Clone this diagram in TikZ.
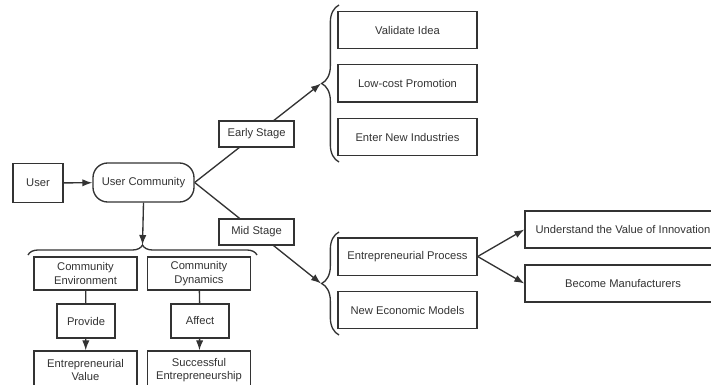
\documentclass[tikz,border=0pt]{standalone}
\usepackage{fontspec}
\setmainfont{Liberation Sans}
\usetikzlibrary{arrows.meta,decorations.pathreplacing}
\definecolor{ink}{HTML}{333333}

\begin{document}
\begin{tikzpicture}[x=0.75pt,y=-0.75pt,
    font=\fontsize{8.4}{10}\selectfont,
    line width=1pt, draw=ink, text=ink,
    >={Latex[length=7.5pt,width=5.5pt]},
    box/.style={draw, fill=white, inner sep=2pt, align=center},
    stagebox/.style={box, minimum width=56.25pt, minimum height=19.5pt},
    itembox/.style={box, minimum width=104.25pt, minimum height=28pt},
    resultbox/.style={box, minimum width=147pt, minimum height=27.75pt},
    facetbox/.style={box, minimum width=77.25pt, minimum height=24.75pt},
    verbbox/.style={box, minimum width=43.5pt, minimum height=25.5pt},
    valuebox/.style={box, minimum width=77.25pt, minimum height=28.5pt}]
    \useasboundingbox (0,0) rectangle (711,385);
    % user and community
    \node[box, minimum width=37.5pt, minimum height=29.25pt] (user) at (38,183) {User};
    \node[box, rounded corners=11pt, minimum width=75.75pt, minimum height=29.25pt] (uc) at (143.5,182.5) {User Community};
    \draw[->] (user) -- (uc);
    % brace tips
    \coordinate (tipA) at (321,83.5);
    \coordinate (tipB) at (321,283.5);
    \coordinate (tipC) at (142.5,245);
    \draw[decorate, decoration={brace, amplitude=13pt}] (339,162) -- (339,5);
    \draw[decorate, decoration={brace, amplitude=13pt}] (339,335) -- (339,232);
    \draw[decorate, decoration={brace, amplitude=7.5pt}] (28,255) -- (257,255);
    \draw[->] (uc.east) -- node[stagebox, pos=0.49] (early) {Early Stage} (tipA);
    \draw[->] (uc.east) -- node[stagebox, pos=0.49] (mid) {Mid Stage} (tipB);
    \draw[->] (uc.south) -- (tipC);
    % early stage
    \node[itembox] (validate) at (407.5,30) {Validate Idea};
    \node[itembox] (lowcost) at (407.5,83.5) {Low-cost Promotion};
    \node[itembox] (enter) at (407.5,137) {Enter New Industries};
    % mid stage
    \node[itembox] (process) at (407.5,256.5) {Entrepreneurial Process};
    \node[itembox] (models) at (407.5,310) {New Economic Models};
    \node[resultbox] (understand) at (623,229.5) {Understand the Value of Innovation};
    \node[resultbox] (become) at (623,283.5) {Become Manufacturers};
    \draw[->] (process.east) -- (understand.west);
    \draw[->] (process.east) -- (become.west);
    % community side
    \node[facetbox] (environment) at (85.5,273.5) {Community\\Environment};
    \node[facetbox] (dynamics) at (199,273.5) {Community\\Dynamics};
    \node[verbbox] (provide) at (86,321) {Provide};
    \node[verbbox] (affect) at (200,321) {Affect};
    \node[valuebox] (value) at (85.5,370) {Entrepreneurial\\Value};
    \node[valuebox] (success) at (199,370) {Successful\\Entrepreneurship};
    \draw (environment) -- (provide);
    \draw[->] (provide) -- (value);
    \draw (dynamics) -- (affect);
    \draw[->] (affect) -- (success);
\end{tikzpicture}
\end{document}
